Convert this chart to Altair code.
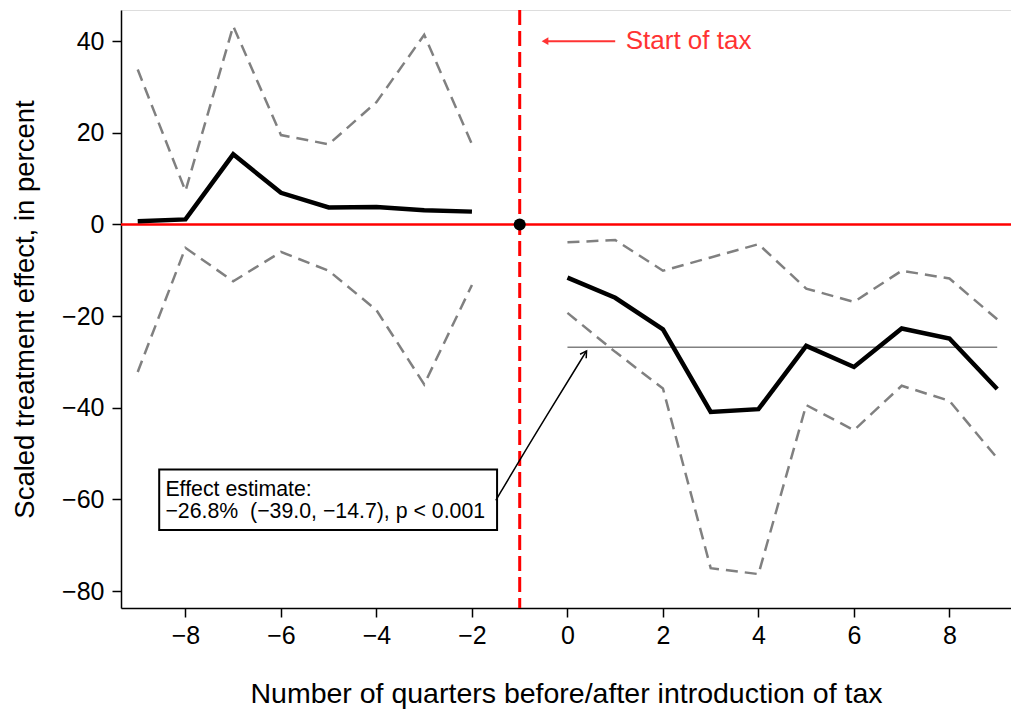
import altair as alt
import pandas as pd

# ---- data ----
pre_x = [-9, -8, -7, -6, -5, -4, -3, -2]
pre_est = [0.7, 1.1, 15.3, 6.9, 3.7, 3.8, 3.1, 2.8]
pre_hi = [33.8, 7.3, 43.3, 19.5, 17.5, 26.7, 41.4, 17.5]
pre_lo = [-32.2, -5.1, -12.4, -6.0, -10.1, -18.7, -34.9, -13.2]

post_x = [0, 1, 2, 3, 4, 5, 6, 7, 8, 9]
post_est = [-11.6, -16.0, -22.9, -40.9, -40.3, -26.5, -31.1, -22.7, -24.9, -35.9]
post_hi = [-3.9, -3.4, -10.1, -7.2, -4.3, -14.0, -16.9, -10.1, -11.8, -20.7]
post_lo = [-19.3, -27.8, -35.8, -75.0, -76.3, -39.4, -44.9, -35.2, -38.5, -51.0]

effect = -26.8
tax_start = -1
x_ticks = [-8, -6, -4, -2, 0, 2, 4, 6, 8]
y_ticks = [-80, -60, -40, -20, 0, 20, 40]

box_lines = ["Effect estimate:", "\u221226.8%\u00a0\u00a0(\u221239.0, \u221214.7), p < 0.001"]
start_label = "Start of tax"

FONT = "Liberation Sans"
XD = [-9.35, 9.289]
YD = [-83.7, 46.8]

# ---- tables ----
rows = []
for period, xs, est, hi, lo in [("pre", pre_x, pre_est, pre_hi, pre_lo),
                                ("post", post_x, post_est, post_hi, post_lo)]:
    for i, xv in enumerate(xs):
        rows.append({"x": xv, "y": est[i], "series": "est", "grp": period})
        rows.append({"x": xv, "y": hi[i], "series": "hi", "grp": period + "hi"})
        rows.append({"x": xv, "y": lo[i], "series": "lo", "grp": period + "lo"})
df = pd.DataFrame(rows)

xs = alt.Scale(domain=XD, nice=False, zero=False)
ys = alt.Scale(domain=YD, nice=False, zero=False)

X = alt.X("x:Q", scale=xs,
          axis=alt.Axis(values=x_ticks, title="Number of quarters before/after introduction of tax",
                        grid=False, domainColor="black", domainWidth=1.5, tickColor="black",
                        tickWidth=1.5, tickSize=9, labelFontSize=25, labelFont=FONT,
                        labelColor="black", labelPadding=6, titleFont=FONT, titleFontSize=28.5,
                        titleFontWeight="normal", titleColor="black",
                        titleBaseline="alphabetic", titleY=94))
Y = alt.Y("y:Q", scale=ys,
          axis=alt.Axis(values=y_ticks, title="Scaled treatment effect, in percent",
                        grid=False, domainColor="black", domainWidth=1.5, tickColor="black",
                        tickWidth=1.5, tickSize=9, labelFontSize=25, labelFont=FONT,
                        labelColor="black", labelPadding=8, titleFont=FONT, titleFontSize=27.5,
                        titleFontWeight="normal", titleColor="black", titlePadding=22))

base = alt.Chart(df)

ci = base.transform_filter(alt.datum.series != "est").mark_line(
    color="#808080", strokeWidth=2.5, strokeDash=[12, 7]
).encode(x=X, y=Y, detail="grp:N")

est = base.transform_filter(alt.datum.series == "est").mark_line(
    color="black", strokeWidth=4.5
).encode(x=alt.X("x:Q", scale=xs), y=alt.Y("y:Q", scale=ys), detail="grp:N")

eff_df = pd.DataFrame({"x": [post_x[0]], "x2": [post_x[-1]], "y": [effect]})
eff = alt.Chart(eff_df).mark_rule(color="#808080", strokeWidth=1.5).encode(
    x=alt.X("x:Q", scale=xs), x2="x2:Q", y=alt.Y("y:Q", scale=ys))

zero = alt.Chart(pd.DataFrame({"y": [0]})).mark_rule(color="#ff0000", strokeWidth=2.5).encode(
    y=alt.Y("y:Q", scale=ys))
vline = alt.Chart(pd.DataFrame({"x": [tax_start]})).mark_rule(
    color="#ff0000", strokeWidth=3, strokeDash=[15, 6]).encode(x=alt.X("x:Q", scale=xs))

dot = alt.Chart(pd.DataFrame({"x": [tax_start], "y": [0]})).mark_point(
    filled=True, color="black", size=145, opacity=1).encode(
    x=alt.X("x:Q", scale=xs), y=alt.Y("y:Q", scale=ys))

# "Start of tax" arrow + label
sa_df = pd.DataFrame({"x": [-0.45, 1.0], "y": [40, 40]})
sa_line = alt.Chart(sa_df).mark_line(color="#ff3333", strokeWidth=2).encode(
    x=alt.X("x:Q", scale=xs), y=alt.Y("y:Q", scale=ys))
sa_head = alt.Chart(pd.DataFrame({"x": [-0.47], "y": [40]})).mark_point(
    shape="triangle-left", filled=True, color="#ff3333", size=60, opacity=1).encode(
    x=alt.X("x:Q", scale=xs), y=alt.Y("y:Q", scale=ys))
sa_text = alt.Chart(pd.DataFrame({"x": [1.22], "y": [40], "t": [start_label]})).mark_text(
    align="left", baseline="middle", fontSize=26, font=FONT, color="#ff3333").encode(
    x=alt.X("x:Q", scale=xs), y=alt.Y("y:Q", scale=ys), text="t:N")

# effect box
box = alt.Chart(pd.DataFrame({"x": [-8.55], "x2": [-1.474], "y": [-53.45], "y2": [-66.7]})).mark_rect(
    fill="white", stroke="black", strokeWidth=2).encode(
    x=alt.X("x:Q", scale=xs), x2="x2:Q", y=alt.Y("y:Q", scale=ys), y2="y2:Q")
box_text = alt.Chart(pd.DataFrame({"x": [-8.42, -8.42], "y": [-59.2, -64.1], "t": box_lines})).mark_text(
    align="left", baseline="alphabetic", fontSize=21.3, font=FONT, color="black").encode(
    x=alt.X("x:Q", scale=xs), y=alt.Y("y:Q", scale=ys), text="t:N")

arr_df = pd.DataFrame({"x": [-1.50, -0.75, 0.40], "y": [-60.2, -47.0, -27.6], "o": [0, 1, 2]})
arr = alt.Chart(arr_df).mark_line(color="black", strokeWidth=1.5, interpolate="basis").encode(
    x=alt.X("x:Q", scale=xs), y=alt.Y("y:Q", scale=ys), order="o:Q")
arr_head = alt.Chart(pd.DataFrame({"x": [0.40], "y": [-27.6]})).mark_point(
    shape="M-0.7,1.2L0,0L0.7,1.2", filled=False, color="black", strokeWidth=1.5, size=110,
    angle=33, opacity=1).encode(x=alt.X("x:Q", scale=xs), y=alt.Y("y:Q", scale=ys))

chart = alt.layer(
    ci, eff, zero, vline, est, box, box_text, arr, arr_head, sa_line, sa_head, sa_text, dot
).properties(
    width=890, height=598,
    autosize=alt.AutoSizeParams(type="none"),
    padding={"left": 113, "top": 2, "right": 0, "bottom": 101},
).configure_view(stroke=None).configure(background="white")

chart.save("out.html", embed_options={"renderer": "svg", "actions": False})
